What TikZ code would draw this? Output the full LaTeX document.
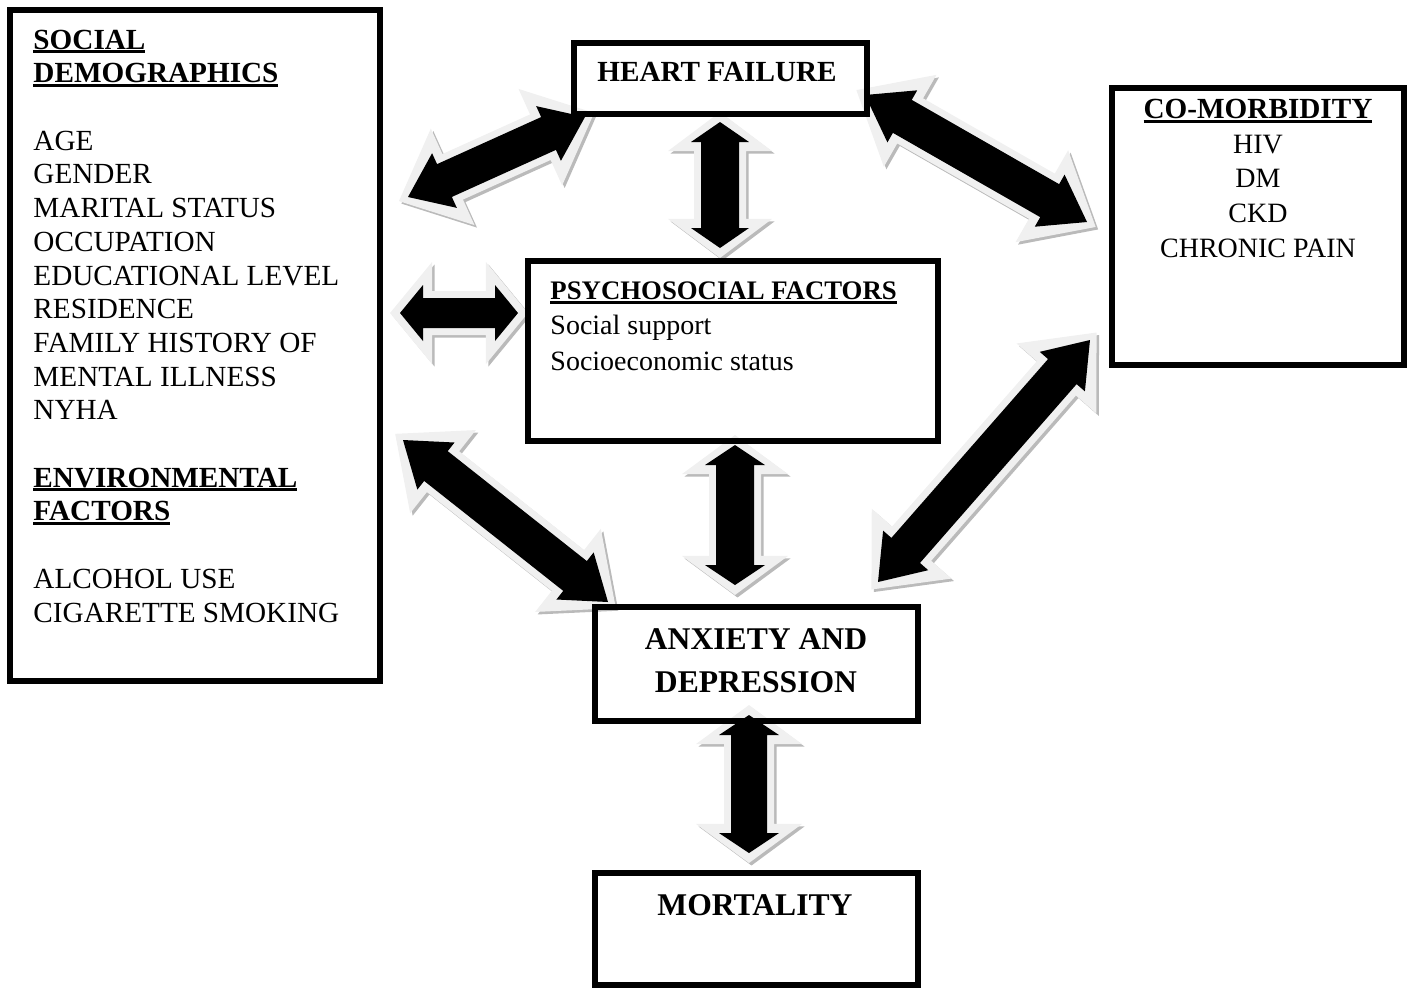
\documentclass[tikz,border=0pt]{standalone}
\usepackage{fontspec}
\setmainfont{Liberation Serif}
\usetikzlibrary{calc}

% one pixel of the layout
\newcommand{\pxl}{0.411pt}
% bold heading with a heavy underline
\newcommand{\hdline}[1]{{\setbox0\hbox{\textbf{#1}}\rlap{\rule[-1.7pt]{\wd0}{1.2pt}}\box0}}

% double block arrow: tip, tip, shaft half width, head half width, head length, style
\newcommand{\arrowpath}[6]{%
  \pgfmathsetmacro\asw{(#3)*0.411}%
  \pgfmathsetmacro\ahw{(#4)*0.411}%
  \pgfmathsetmacro\ahl{(#5)*0.411}%
  \coordinate (h1) at ($(#1)!\ahl pt!(#2)$);
  \coordinate (h2) at ($(#2)!\ahl pt!(#1)$);
  \fill[#6] (#1) -- ($(h1)!\ahw pt!90:(#2)$) -- ($(h1)!\asw pt!90:(#2)$)
    -- ($(h2)!\asw pt!-90:(#1)$) -- ($(h2)!\ahw pt!-90:(#1)$) -- (#2)
    -- ($(h2)!\ahw pt!90:(#1)$) -- ($(h2)!\asw pt!90:(#1)$)
    -- ($(h1)!\asw pt!-90:(#2)$) -- ($(h1)!\ahw pt!-90:(#2)$) -- cycle;
}
% black arrow with pale rim and grey shadow
\newcommand{\blockarrow}[5]{%
  \coordinate (o1) at ($(#1)!-4.1pt!(#2)$);
  \coordinate (o2) at ($(#2)!-4.1pt!(#1)$);
  \coordinate (s1) at ($(o1)+(2.5,2.5)$);
  \coordinate (s2) at ($(o2)+(2.5,2.5)$);
  \arrowpath{s1}{s2}{#3+7}{#4+23}{#5+19}{arrowshadow}
  \arrowpath{o1}{o2}{#3+7}{#4+23}{#5+19}{arrowrim}
  \arrowpath{#1}{#2}{#3}{#4}{#5}{arrowcore}
}

\tikzset{
  box/.style={draw, line width=2.5pt, inner sep=0pt},
  txt/.style={inner sep=0pt, align=left, font=\fontsize{12}{13.85}\selectfont},
  arrowshadow/.style={fill=black!27},
  arrowrim/.style={fill=black!6},
  arrowcore/.style={fill=black}
}

\begin{document}
\begin{tikzpicture}[x=0.411pt, y=-0.411pt]
  \useasboundingbox (0,0) rectangle (1411,988);

  % arrow tips
  \coordinate (sdhf1) at (408,197);  \coordinate (sdhf2) at (585,117);
  \coordinate (hfcm1) at (865,95);   \coordinate (hfcm2) at (1087,222);
  \coordinate (sdps1) at (400,313);  \coordinate (sdps2) at (518,313);
  \coordinate (hfps1) at (720,122);  \coordinate (hfps2) at (720,248);
  \coordinate (psax1) at (735,445);  \coordinate (psax2) at (735,585);
  \coordinate (sdax1) at (403,440);  \coordinate (sdax2) at (608,602);
  \coordinate (cmax1) at (1090,340); \coordinate (cmax2) at (878,582);
  \coordinate (axmo1) at (749,715);  \coordinate (axmo2) at (749,853);

  % arrows
  \blockarrow{sdhf1}{sdhf2}{18}{30}{40}
  \blockarrow{hfcm1}{hfcm2}{19}{30}{43}
  \blockarrow{sdps1}{sdps2}{15}{28}{23}
  \blockarrow{hfps1}{hfps2}{19}{29}{20}
  \blockarrow{psax1}{psax2}{19}{30}{20}
  \blockarrow{sdax1}{sdax2}{19}{30}{42}
  \blockarrow{cmax1}{cmax2}{19}{30}{42}
  \blockarrow{axmo1}{axmo2}{18}{30}{20}

  % boxes
  \node[box, minimum width=370*\pxl, minimum height=671*\pxl] (sd) at (195,345.5) {};
  \node[box, minimum width=293*\pxl, minimum height=71*\pxl] (hf) at (720.5,78.5) {};
  \node[box, minimum width=292*\pxl, minimum height=277*\pxl] (cm) at (1258,226.5) {};
  \node[box, minimum width=410*\pxl, minimum height=180*\pxl] (ps) at (733,351) {};
  \node[box, minimum width=323*\pxl, minimum height=114*\pxl] (ax) at (756.5,664) {};
  \node[box, minimum width=323*\pxl, minimum height=112*\pxl] (mo) at (756.5,929) {};

  % texts (base = last line)
  \node[txt, anchor=base west] (sdtext) at (33,622) {\hdline{SOCIAL}\\
    \hdline{DEMOGRAPHICS}\\[13.85pt]
    AGE\\ GENDER\\ MARITAL STATUS\\ OCCUPATION\\ EDUCATIONAL LEVEL\\
    RESIDENCE\\ FAMILY HISTORY OF\\ MENTAL ILLNESS\\ NYHA\\[13.85pt]
    \hdline{ENVIRONMENTAL}\\ \hdline{FACTORS}\\[13.85pt]
    ALCOHOL USE\\ CIGARETTE SMOKING};
  \node[txt, anchor=base, font=\bfseries\fontsize{12}{13.85}\selectfont] (hftext) at (717,81) {HEART FAILURE};
  \node[txt, anchor=base, align=center, font=\fontsize{11.5}{14.2}\selectfont] (cmtext) at (1258,257)
    {{\fontsize{12}{14.2}\selectfont\hdline{CO-MORBIDITY}}\\ HIV\\ DM\\ CKD\\ CHRONIC PAIN};
  \node[txt, anchor=base west, font=\fontsize{11.5}{14.4}\selectfont] (pstext) at (550,370)
    {{\fontsize{11}{14.4}\selectfont\hdline{PSYCHOSOCIAL FACTORS}}\\ Social support\\ Socioeconomic status};
  \node[txt, anchor=base, align=center, font=\bfseries\fontsize{13}{17.3}\selectfont] (axtext) at (756,692)
    {ANXIETY AND\\ DEPRESSION};
  \node[txt, anchor=base, font=\bfseries\fontsize{13}{17.3}\selectfont] (motext) at (755,915) {MORTALITY};
\end{tikzpicture}
\end{document}
